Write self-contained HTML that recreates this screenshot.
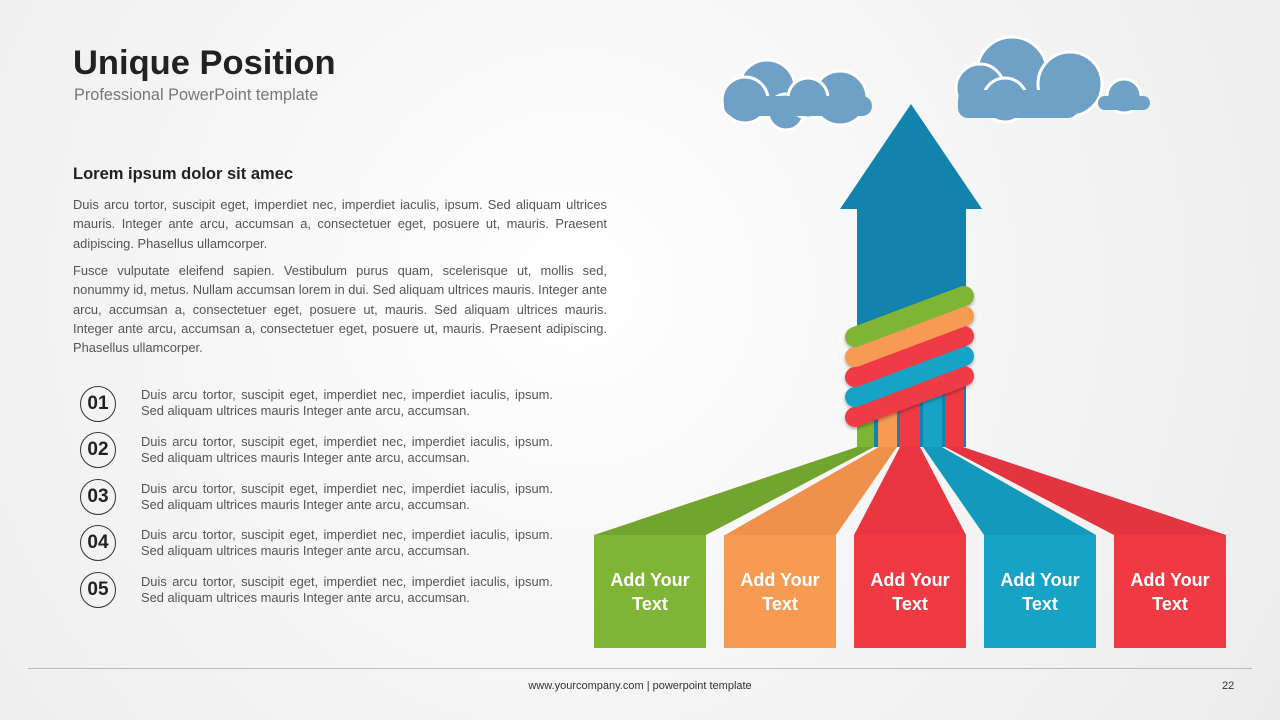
<!DOCTYPE html><html><head><style>
body{margin:0;width:1280px;height:720px;overflow:hidden;background:radial-gradient(circle at 45% 40%,#fff 0%,#f7f7f7 40%,#ececec 100%);font-family:"Liberation Sans",sans-serif;position:relative}
.a{position:absolute}
h1{position:absolute;left:73px;top:44px;margin:0;font-size:34.5px;font-weight:bold;color:#222;letter-spacing:0px}
.sub{left:74px;top:86px;font-size:16.3px;color:#777}
.h{left:73px;top:165px;font-size:16.5px;font-weight:bold;color:#222}
.p{left:73px;width:534px;font-size:12.9px;line-height:19.3px;color:#555;text-align:justify}
.n{left:80px;width:34px;height:34px;border:1.3px solid #333;border-radius:50%;text-align:center;line-height:34px;font-weight:bold;font-size:19px;color:#222}
.t{left:141px;width:412px;font-size:12.9px;line-height:16px;color:#555;text-align:justify;text-align-last:left}
</style></head><body>
<h1>Unique Position</h1>
<div class="a sub">Professional PowerPoint template</div>
<div class="a h">Lorem ipsum dolor sit amec</div>
<div class="a p" style="top:195px">Duis arcu tortor, suscipit eget, imperdiet nec, imperdiet iaculis, ipsum. Sed aliquam ultrices mauris. Integer ante arcu, accumsan a, consectetuer eget, posuere ut, mauris. Praesent adipiscing. Phasellus ullamcorper.</div>
<div class="a p" style="top:261px">Fusce vulputate eleifend sapien. Vestibulum purus quam, scelerisque ut, mollis sed, nonummy id, metus. Nullam accumsan lorem in dui. Sed aliquam ultrices mauris. Integer ante arcu, accumsan a, consectetuer eget, posuere ut, mauris. Sed aliquam ultrices mauris. Integer ante arcu, accumsan a, consectetuer eget, posuere ut, mauris. Praesent adipiscing. Phasellus ullamcorper.</div>
<div class="a n" style="top:386px">01</div><div class="a t" style="top:387px">Duis arcu tortor, suscipit eget, imperdiet nec, imperdiet iaculis, ipsum. Sed aliquam ultrices mauris Integer ante arcu, accumsan.</div>
<div class="a n" style="top:432px">02</div><div class="a t" style="top:434px">Duis arcu tortor, suscipit eget, imperdiet nec, imperdiet iaculis, ipsum. Sed aliquam ultrices mauris Integer ante arcu, accumsan.</div>
<div class="a n" style="top:479px">03</div><div class="a t" style="top:481px">Duis arcu tortor, suscipit eget, imperdiet nec, imperdiet iaculis, ipsum. Sed aliquam ultrices mauris Integer ante arcu, accumsan.</div>
<div class="a n" style="top:525px">04</div><div class="a t" style="top:527px">Duis arcu tortor, suscipit eget, imperdiet nec, imperdiet iaculis, ipsum. Sed aliquam ultrices mauris Integer ante arcu, accumsan.</div>
<div class="a n" style="top:572px">05</div><div class="a t" style="top:574px">Duis arcu tortor, suscipit eget, imperdiet nec, imperdiet iaculis, ipsum. Sed aliquam ultrices mauris Integer ante arcu, accumsan.</div>
<div class="a" style="left:28px;top:668px;width:1224px;height:1px;background:#bbb"></div>
<div class="a" style="left:0;width:1280px;top:680px;text-align:center;font-size:11px;color:#333">www.yourcompany.com | powerpoint template</div>
<div class="a" style="left:1222px;top:680px;font-size:11px;color:#333">22</div>
<svg class="a" style="left:0;top:0" width="1280" height="720">
<defs><filter id="s" x="-20%" y="-20%" width="140%" height="160%"><feDropShadow dx="0" dy="2" stdDeviation="1.5" flood-opacity="0.3"/></filter></defs>
<g fill="#6fa1c7" stroke="#fff" stroke-width="3">
<circle cx="767" cy="88" r="28"/><circle cx="745" cy="100" r="23"/><circle cx="840" cy="98" r="27"/><circle cx="786" cy="112" r="18"/><circle cx="808" cy="98" r="20"/>
<rect x="724" y="96" width="148" height="20" rx="10" stroke="none"/>
<circle cx="1012" cy="72" r="35"/><circle cx="980" cy="88" r="24"/><circle cx="1070" cy="84" r="32"/><circle cx="1005" cy="100" r="22"/><circle cx="1124" cy="96" r="17"/>
<rect x="958" y="90" width="120" height="28" rx="10" stroke="none"/><rect x="1098" y="96" width="52" height="14" rx="7" stroke="none"/>
</g>
<polygon points="911,104 982,209 966,209 966,447 857,447 857,209 840,209" fill="#1283ad"/>
<rect x="857" y="380" width="17" height="67" fill="#7fb534"/>
<rect x="878" y="380" width="19" height="67" fill="#f79a52"/>
<rect x="900" y="380" width="20" height="67" fill="#ef3a44"/>
<rect x="923" y="380" width="19" height="67" fill="#16a3c6"/>
<rect x="945" y="380" width="19" height="67" fill="#ef3a44"/>
<polygon points="857,447 874,447 706,535 594,535" fill="#72a530"/>
<polygon points="879,447 897,447 836,535 725,535" fill="#ee914d"/>
<polygon points="900,447 920,447 966,535 854,535" fill="#e83540"/>
<polygon points="923,447 942,447 1096,535 984,535" fill="#1399bb"/>
<polygon points="945,447 963,447 1226,535 1114,535" fill="#e3353f"/>
<g stroke-width="20" stroke-linecap="round" filter="url(#s)">
<line x1="855" y1="417" x2="964" y2="376" stroke="#ef3a44"/>
<line x1="855" y1="397" x2="964" y2="356" stroke="#16a3c6"/>
<line x1="855" y1="377" x2="964" y2="336" stroke="#ef3a44"/>
<line x1="855" y1="357" x2="964" y2="316" stroke="#f79a52"/>
<line x1="855" y1="337" x2="964" y2="296" stroke="#7fb534"/>
</g>
<rect x="594" y="535" width="112" height="113" fill="#7fb534"/>
<rect x="724" y="535" width="112" height="113" fill="#f79a52"/>
<rect x="854" y="535" width="112" height="113" fill="#ef3a44"/>
<rect x="984" y="535" width="112" height="113" fill="#16a3c6"/>
<rect x="1114" y="535" width="112" height="113" fill="#ef3a44"/>
<g fill="#fff" font-size="18" font-weight="bold" text-anchor="middle" font-family="Liberation Sans,sans-serif">
<text x="650" y="586">Add Your</text><text x="650" y="610">Text</text>
<text x="780" y="586">Add Your</text><text x="780" y="610">Text</text>
<text x="910" y="586">Add Your</text><text x="910" y="610">Text</text>
<text x="1040" y="586">Add Your</text><text x="1040" y="610">Text</text>
<text x="1170" y="586">Add Your</text><text x="1170" y="610">Text</text>
</g>
</svg>
</body></html>
